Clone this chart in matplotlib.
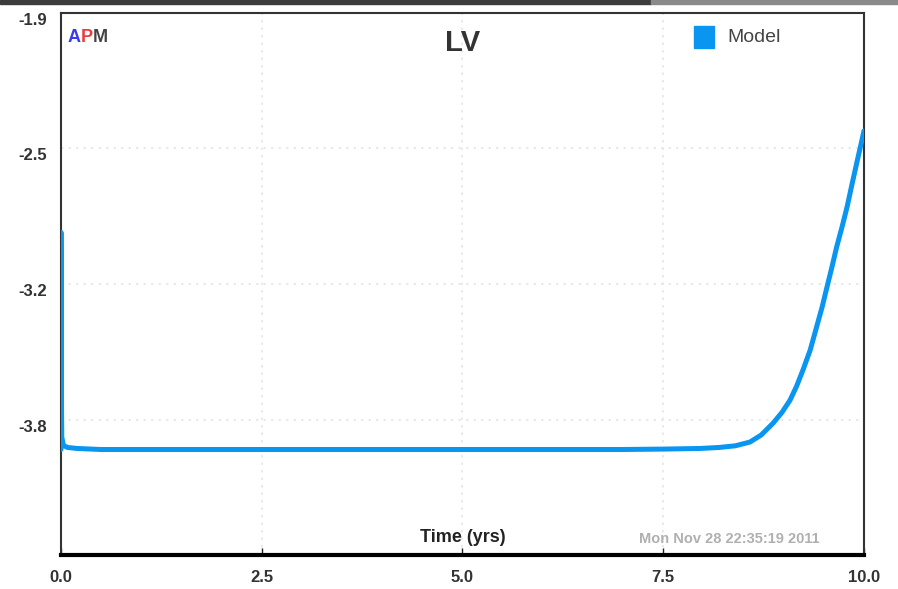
import matplotlib.pyplot as plt
import matplotlib.patches as patches
import numpy as np

# values
time_yrs = [0.0, 0.0, 0.002, 0.005, 0.01, 0.03, 0.08, 0.2, 0.5, 1.0, 2.0, 3.0,
            4.0, 5.0, 6.0, 7.0, 7.5, 7.96, 8.2, 8.4, 8.58, 8.72, 8.87, 8.98,
            9.08, 9.16, 9.24, 9.33, 9.41, 9.48, 9.54, 9.6, 9.66, 9.73, 9.79,
            9.85, 9.91, 9.96, 10.0]
lv_model = [-3.99, -2.94, -3.30, -3.70, -3.93, -3.97, -3.98, -3.985, -3.99,
            -3.99, -3.99, -3.99, -3.99, -3.99, -3.99, -3.99, -3.988, -3.985,
            -3.98, -3.972, -3.954, -3.92, -3.862, -3.81, -3.751, -3.685,
            -3.606, -3.51, -3.398, -3.30, -3.204, -3.11, -3.011, -2.91,
            -2.817, -2.71, -2.605, -2.52, -2.45]

y_min, y_max = -4.5, -1.88
y_ticks = np.linspace(y_max, y_min, 5)
y_labels = ['-1.9', '-2.5', '-3.2', '-3.8', '']
x_ticks = [0.0, 2.5, 5.0, 7.5, 10.0]
x_labels = ['0.0', '2.5', '5.0', '7.5', '10.0']

plt.rcParams['font.family'] = ['Liberation Sans', 'DejaVu Sans']

fig = plt.figure(figsize=(8.98, 5.89), dpi=100)
fig.patch.set_facecolor('white')
# dark bar along the very top of the screenshot
fig.patches.append(patches.Rectangle((0, 0.993), 0.725, 0.007, transform=fig.transFigure,
                                     color='#3c3c3c', zorder=0))
fig.patches.append(patches.Rectangle((0.725, 0.993), 0.275, 0.007, transform=fig.transFigure,
                                     color='#8a8a8a', zorder=0))

ax = fig.add_axes([0.0679, 0.0577, 0.8942, 0.9203])
ax.plot(time_yrs, lv_model, color='#0a96f0', lw=3.6, solid_capstyle='round',
        solid_joinstyle='round', zorder=3)

ax.set_xlim(0, 10)
ax.set_ylim(y_min, y_max)
ax.set_xticks(x_ticks)
ax.set_xticklabels(x_labels)
ax.set_yticks(y_ticks)
ax.set_yticklabels(y_labels)
ax.tick_params(axis='x', direction='in', length=5, width=1, pad=11, labelsize=12,
               colors='#222222')
ax.tick_params(axis='y', length=0, pad=10, labelsize=12, colors='#222222')
for lab in ax.get_xticklabels() + ax.get_yticklabels():
    lab.set_fontweight('bold')
    lab.set_color('#333333')
for lab in ax.get_yticklabels():
    lab.set_verticalalignment('top')

ax.grid(True, color='#e6e6e6', linestyle=(0, (1.5, 3)), lw=1.2)
for s in ['left', 'right', 'top']:
    ax.spines[s].set_color('#333333')
    ax.spines[s].set_linewidth(1.5)
ax.spines['bottom'].set_color('black')
ax.spines['bottom'].set_linewidth(3)

ax.text(0.5, 0.945, 'LV', transform=ax.transAxes, ha='center', va='center',
        fontsize=21, fontweight='bold', color='#333333')
ax.text(0.008, 0.955, 'A', transform=ax.transAxes, ha='left', va='center',
        fontsize=13, fontweight='bold', color='#3a3af0')
ax.text(0.0245, 0.955, 'P', transform=ax.transAxes, ha='left', va='center',
        fontsize=13, fontweight='bold', color='#f03a3a')
ax.text(0.0395, 0.955, 'M', transform=ax.transAxes, ha='left', va='center',
        fontsize=13, fontweight='bold', color='#444444')

ax.add_patch(patches.Rectangle((0.788, 0.935), 0.025, 0.041, transform=ax.transAxes,
                               color='#0a96f0', zorder=4))
ax.text(0.83, 0.955, 'Model', transform=ax.transAxes, ha='left', va='center',
        fontsize=14, color='#444444')

ax.text(0.5, 0.032, 'Time (yrs)', transform=ax.transAxes, ha='center', va='center',
        fontsize=13, fontweight='bold', color='#222222')
ax.text(0.945, 0.03, 'Mon Nov 28 22:35:19 2011', transform=ax.transAxes, ha='right',
        va='center', fontsize=10.5, fontweight='bold', color='#b0b0b0')

fig.savefig('out.png', dpi=100)
